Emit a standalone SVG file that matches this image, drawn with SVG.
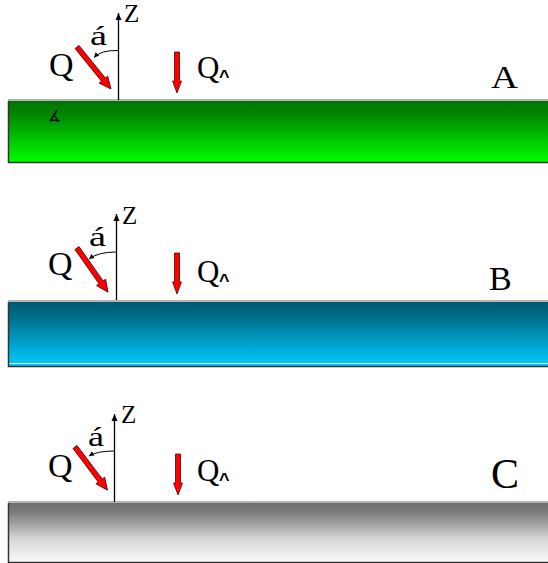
<svg xmlns="http://www.w3.org/2000/svg" width="548" height="563" viewBox="0 0 548 563">
<style>
.t{font-family:"Liberation Serif","Times New Roman",serif;fill:#000}
.z{font-size:25px}
.a{font-size:27px}
.q{font-size:34px}
.q2{font-size:31px}
.ax{stroke:#000;stroke-width:1.3;fill:none}
.arc{stroke:#000;stroke-width:1;fill:none}
.red{fill:#ff0000;stroke:#5a0000;stroke-width:0.8}
.top{stroke:#b4b4b4;stroke-width:2}
.bd{stroke:#333;stroke-width:1.5}
.hat{font-family:"Liberation Sans",Arial,sans-serif;font-weight:bold;font-size:18px}
</style>
<defs>
<linearGradient id="gA" x1="0" y1="0" x2="0" y2="1">
<stop offset="0" stop-color="#007400"/><stop offset="0.25" stop-color="#008a00"/><stop offset="1" stop-color="#00ff00"/>
</linearGradient>
<linearGradient id="gB" x1="0" y1="0" x2="0" y2="1">
<stop offset="0" stop-color="#005a72"/><stop offset="0.2" stop-color="#006a86"/><stop offset="1" stop-color="#00ccff"/>
</linearGradient>
<linearGradient id="gC" x1="0" y1="0" x2="0" y2="1">
<stop offset="0" stop-color="#6e6e6e"/><stop offset="0.15" stop-color="#7a7a7a"/><stop offset="0.6" stop-color="#d6d6d6"/><stop offset="1" stop-color="#fafafa"/>
</linearGradient>
<marker id="ah" markerWidth="8" markerHeight="8" refX="7" refY="4" orient="auto" markerUnits="userSpaceOnUse">
<path d="M0,1 L7,4 L0,7 Z" fill="#000"/>
</marker>
<marker id="ahs" markerWidth="6" markerHeight="6" refX="5" refY="3" orient="auto" markerUnits="userSpaceOnUse">
<path d="M0,0.5 L5,3 L0,5.5 Z" fill="#000"/>
</marker>
<path id="diag" d="M0,-2.5 L42,-2.5 L42,-5.5 L54,0 L42,5.5 L42,2.5 L0,2.5 Z"/>
<path id="vert" d="M0,-2.5 L29,-2.5 L29,-4.5 L41,0 L29,4.5 L29,2.5 L0,2.5 Z"/>
</defs>

<g id="panelA">
<rect x="8" y="101" width="545" height="61" fill="url(#gA)"/>
<line class="top" x1="8" y1="100" x2="548" y2="100"/>
<line class="bd" x1="8.5" y1="101" x2="8.5" y2="163"/>
<line class="bd" x1="8" y1="162.5" x2="548" y2="162.5"/>
<text class="t" x="48" y="121" font-size="15">∡</text>
<text class="t" x="491" y="88" font-size="31" textLength="27" lengthAdjust="spacingAndGlyphs">A</text>
</g>
<g id="labelsA">
<text class="t z" x="124" y="22">Z</text>
<text class="t a" x="90" y="45" textLength="17" lengthAdjust="spacingAndGlyphs">á</text>
<text class="t q" x="49" y="76">Q</text>
<text class="t q2" x="197" y="78">Q<tspan class="hat" x="219" y="83">^</tspan></text>
</g>

<g id="panelB">
<rect x="8" y="302" width="545" height="64" fill="url(#gB)"/>
<line class="top" x1="8" y1="301" x2="548" y2="301"/>
<line x1="9" y1="363.5" x2="548" y2="363.5" stroke="#ffffff" stroke-width="1.2"/>
<line class="bd" x1="8.5" y1="302" x2="8.5" y2="367"/>
<line class="bd" x1="8" y1="366.5" x2="548" y2="366.5"/>
<text class="t" x="489" y="290" font-size="34">B</text>
</g>
<g id="labelsB">
<text class="t z" x="122" y="224">Z</text>
<text class="t a" x="89" y="246" textLength="17" lengthAdjust="spacingAndGlyphs">á</text>
<text class="t q" x="48" y="275">Q</text>
<text class="t q2" x="197" y="282">Q<tspan class="hat" x="219" y="287">^</tspan></text>
</g>

<g id="panelC">
<rect x="8" y="503" width="545" height="60" fill="url(#gC)"/>
<line class="top" x1="8" y1="502" x2="548" y2="502"/>
<line class="bd" x1="8.5" y1="503" x2="8.5" y2="563"/>
<line class="bd" x1="8" y1="562.5" x2="548" y2="562.5"/>
<text class="t" x="491" y="488" font-size="42">C</text>
</g>
<g id="labelsC">
<text class="t z" x="121" y="423">Z</text>
<text class="t a" x="88" y="446" textLength="16" lengthAdjust="spacingAndGlyphs">á</text>
<text class="t q" x="48" y="477">Q</text>
<text class="t q2" x="197" y="481">Q<tspan class="hat" x="219" y="486">^</tspan></text>
</g>

<g id="connectors">
<line class="ax" x1="118.5" y1="100" x2="118.5" y2="13" marker-end="url(#ah)"/>
<path class="arc" d="M118,50.5 Q101,50 94,57.5" marker-end="url(#ahs)"/>
<use href="#diag" class="red" transform="translate(77,47) rotate(51)"/>
<use href="#vert" class="red" transform="translate(177,52) rotate(90)"/>

<line class="ax" x1="116.5" y1="300" x2="116.5" y2="214" marker-end="url(#ah)"/>
<path class="arc" d="M116,252 Q98,252 89,259" marker-end="url(#ahs)"/>
<use href="#diag" class="red" transform="translate(77,248) rotate(55)"/>
<use href="#vert" class="red" transform="translate(177,253) rotate(90)"/>

<line class="ax" x1="114.5" y1="502" x2="114.5" y2="414" marker-end="url(#ah)"/>
<path class="arc" d="M114,451 Q97,451 89,456" marker-end="url(#ahs)"/>
<use href="#diag" class="red" transform="translate(75,447) rotate(53)"/>
<use href="#vert" class="red" transform="translate(178,454) rotate(90)"/>
</g>
</svg>
